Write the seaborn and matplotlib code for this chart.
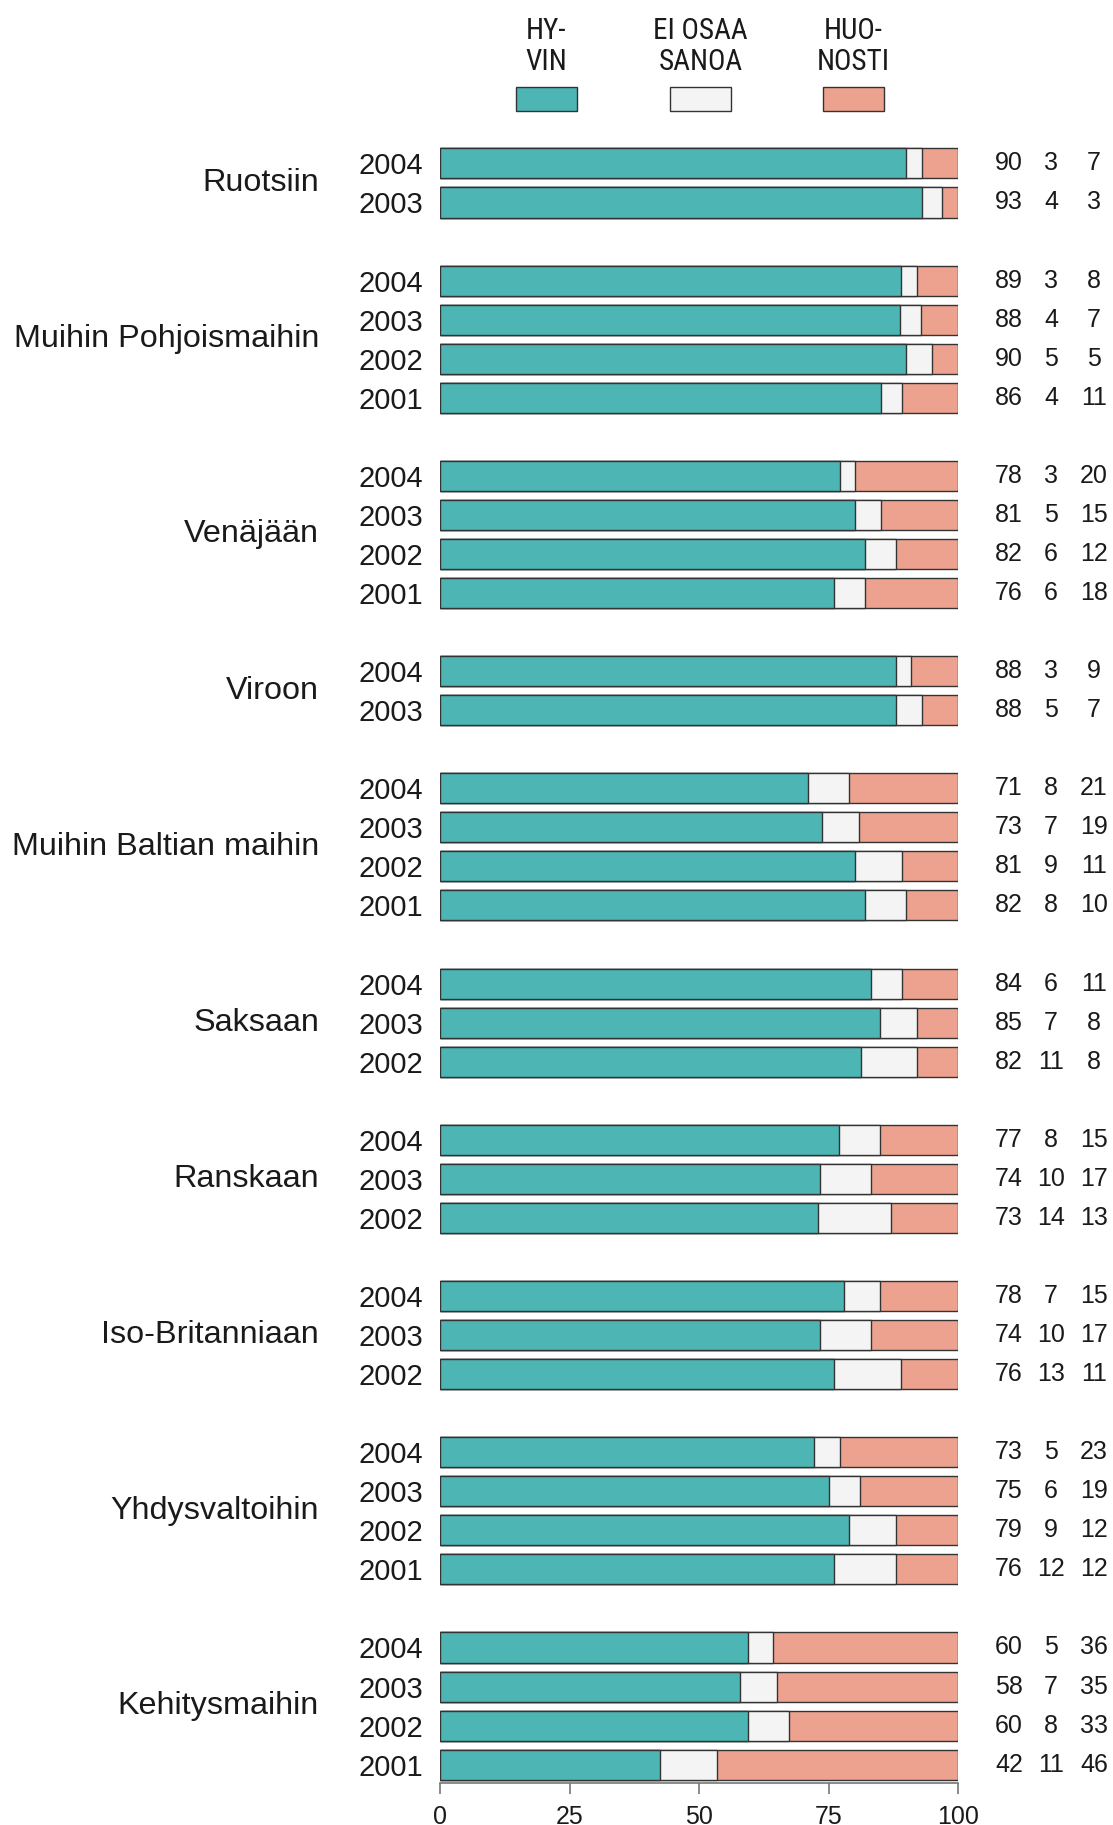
import numpy as np
import pandas as pd
import matplotlib
matplotlib.use("Agg")
import matplotlib.pyplot as plt
from matplotlib.patches import Rectangle
from matplotlib import font_manager
import seaborn as sns

# Survey: how have relations with each country been handled (%), by year
countries = ["Ruotsiin", "Muihin Pohjoismaihin", "Venäjään", "Viroon",
             "Muihin Baltian maihin", "Saksaan", "Ranskaan", "Iso-Britanniaan",
             "Yhdysvaltoihin", "Kehitysmaihin"]
years = [
    [2004, 2003],
    [2004, 2003, 2002, 2001],
    [2004, 2003, 2002, 2001],
    [2004, 2003],
    [2004, 2003, 2002, 2001],
    [2004, 2003, 2002],
    [2004, 2003, 2002],
    [2004, 2003, 2002],
    [2004, 2003, 2002, 2001],
    [2004, 2003, 2002, 2001],
]
hyvin = [90, 93,
         89, 88, 90, 86,
         78, 81, 82, 76,
         88, 88,
         71, 73, 81, 82,
         84, 85, 82,
         77, 74, 73,
         78, 74, 76,
         73, 75, 79, 76,
         60, 58, 60, 42]
ei_osaa = [3, 4,
           3, 4, 5, 4,
           3, 5, 6, 6,
           3, 5,
           8, 7, 9, 8,
           6, 7, 11,
           8, 10, 14,
           7, 10, 13,
           5, 6, 9, 12,
           5, 7, 8, 11]
huonosti = [7, 3,
            8, 7, 5, 11,
            20, 15, 12, 18,
            9, 7,
            21, 19, 11, 10,
            11, 8, 8,
            15, 17, 13,
            15, 17, 11,
            23, 19, 12, 12,
            36, 35, 33, 46]
legend_labels = [("HY-", "VIN"), ("EI OSAA", "SANOA"), ("HUO-", "NOSTI")]
x_ticks = [0, 25, 50, 75, 100]

C_GOOD = "#4db5b3"
C_DK = "#f4f4f4"
C_BAD = "#eda290"
EDGE = "#333333"
TXT = "#1a1a1a"

# Row layout: one empty row between country groups
rows = []
pos = 0
for country, yrs in zip(countries, years):
    for yr in yrs:
        rows.append((country, yr, pos))
        pos += 1
    pos += 1
df = pd.DataFrame(rows, columns=["country", "year", "pos"])
df["hyvin"] = hyvin
df["eos"] = ei_osaa
df["huono"] = huonosti
total = df["hyvin"] + df["eos"] + df["huono"]
# bars show each answer's share of the row total
df["c1"] = df["hyvin"] / total * 100
df["c2"] = (df["hyvin"] + df["eos"]) / total * 100
df["c3"] = 100.0

sns.set_theme(style="white")
plt.rcParams["font.family"] = ["Liberation Sans", "DejaVu Sans"]

# a narrow face for the legend headings, if one is installed
installed = {f.name for f in font_manager.fontManager.ttflist}
narrow = [n for n in ["Liberation Sans Narrow", "Roboto Condensed",
                      "Open Sans Condensed", "Noto Sans Condensed"] if n in installed]
legend_family = narrow[:1] + ["Liberation Sans", "DejaVu Sans"]

W, H = 1113, 1825
fig = plt.figure(figsize=(W / 100, H / 100), dpi=100)
ax_left, ax_right = 440, 958
ax_top, ax_bottom = 140, 1783
ax = fig.add_axes([ax_left / W, 1 - ax_bottom / H,
                   (ax_right - ax_left) / W, (ax_bottom - ax_top) / H])

bar_w = 0.77
for col, colr in [("c3", C_BAD), ("c2", C_DK), ("c1", C_GOOD)]:
    sns.barplot(data=df, x=col, y="pos", orient="y", native_scale=True,
                color=colr, saturation=1, edgecolor=EDGE, linewidth=1.0,
                width=bar_w, errorbar=None, ax=ax)

n_last = df["pos"].max()
ax.set_xlim(0, 100)
ax.set_ylim(n_last + 0.47, -0.6)
ax.set_xlabel("")
ax.set_ylabel("")

for s in ["top", "right", "left"]:
    ax.spines[s].set_visible(False)
ax.spines["bottom"].set_color("#777777")
ax.spines["bottom"].set_linewidth(1.2)

ax.set_xticks(x_ticks)
ax.set_xticklabels([str(t) for t in x_ticks])
ax.tick_params(axis="x", bottom=True, direction="out", length=8, width=1.2,
               color="#777777", labelsize=18, labelcolor=TXT, pad=8)
ax.set_yticks(df["pos"])
ax.set_yticklabels([str(y) for y in df["year"]])
ax.tick_params(axis="y", left=False, length=0, labelsize=21,
               labelcolor=TXT, pad=12)

# Country names beside their groups
ytr = ax.get_yaxis_transform()
for country in countries:
    p = df.loc[df["country"] == country, "pos"]
    ax.text(-0.2336, p.mean(), country, transform=ytr, ha="right",
            va="center", fontsize=23.3, color=TXT)

# Percentages to the right of each bar
for _, r in df.iterrows():
    for xa, v in [(1.0985, r["hyvin"]), (1.1795, r["eos"]), (1.2625, r["huono"])]:
        ax.text(xa, r["pos"], f"{int(v)}", transform=ytr, ha="center",
                va="center", fontsize=18, color=TXT)

# Legend above the bars
leg_x = [516, 670, 823]
leg_w, leg_y0, leg_y1 = 61, 87, 111
for lx, colr, (l1, l2) in zip(leg_x, [C_GOOD, C_DK, C_BAD], legend_labels):
    fig.add_artist(Rectangle((lx / W, 1 - leg_y1 / H), leg_w / W,
                             (leg_y1 - leg_y0) / H, transform=fig.transFigure,
                             facecolor=colr, edgecolor=EDGE, linewidth=1.0))
    cx = (lx + leg_w / 2) / W
    for line, yc in [(l1, 28), (l2, 59)]:
        fig.text(cx, 1 - yc / H, line, ha="center", va="center_baseline",
                 fontsize=21, color=TXT, family=legend_family)

fig.savefig("out.png", dpi=100, facecolor="white")
